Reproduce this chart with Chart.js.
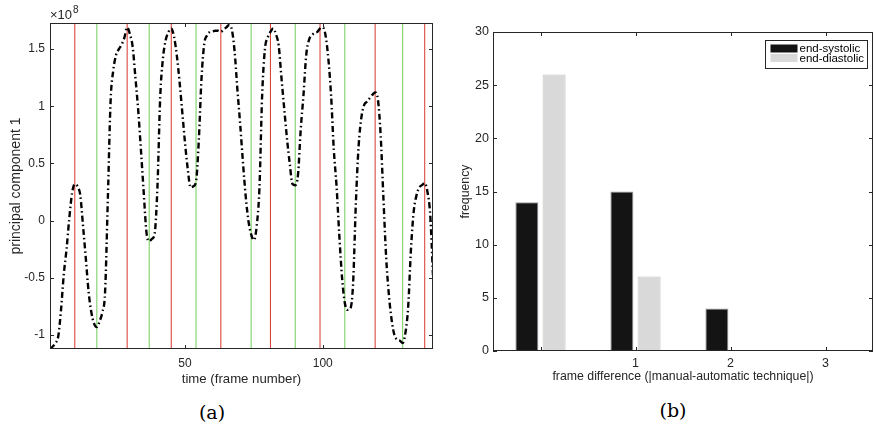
<!DOCTYPE html>
<html>
<head>
<meta charset="utf-8">
<script src="https://cdn.jsdelivr.net/npm/chart.js@4.4.1/dist/chart.umd.min.js"></script>
<style>
    body { margin: 0; background: #fff; }
    #wrap { position: relative; width: 876px; height: 430px; }
    canvas { position: absolute; top: 0; }
    #chartA { left: 0; }
    #chartB { left: 440px; }
    .cap { position: absolute; font-family: "DejaVu Serif", serif; font-size: 19px; color: #000; transform: translate(-50%, -50%); }
</style>
</head>
<body>
<div id="wrap">
    <canvas id="chartA" width="440" height="395"></canvas>
    <canvas id="chartB" width="436" height="395"></canvas>
    <div class="cap" style="left:212px; top:412px">(a)</div>
    <div class="cap" style="left:673px; top:410px">(b)</div>
</div>
<script>
    // (a) principal component 1 (units of 1e8), one value per frame 1..140
    const pc1 = [
        -1.12, -1.10, -1.07, -1.01, -0.78, -0.47, -0.25, 0.02, 0.24, 0.32,
        0.30, 0.22, -0.05, -0.33, -0.62, -0.80, -0.90, -0.93, -0.88, -0.80,
        -0.62, 0.20, 1.05, 1.32, 1.45, 1.50, 1.54, 1.60, 1.69, 1.63,
        1.52, 1.25, 0.97, 0.62, 0.25, -0.10, -0.18, -0.16, -0.11, 0.30,
        1.08, 1.42, 1.58, 1.65, 1.68, 1.61, 1.45, 1.22, 0.95, 0.68,
        0.45, 0.29, 0.30, 0.34, 0.70, 1.25, 1.55, 1.62, 1.65, 1.655,
        1.66, 1.66, 1.65, 1.67, 1.69, 1.71, 1.67, 1.48, 1.15, 0.85,
        0.52, 0.22, 0.00, -0.12, -0.17, -0.05, 0.28, 1.10, 1.50, 1.60,
        1.65, 1.68, 1.63, 1.53, 1.25, 0.98, 0.72, 0.50, 0.32, 0.31,
        0.40, 0.80, 1.10, 1.45, 1.58, 1.62, 1.64, 1.65, 1.68, 1.69,
        1.62, 1.42, 1.10, 0.62, 0.30, -0.13, -0.50, -0.72, -0.78, -0.77,
        -0.55, 0.15, 0.65, 0.90, 1.01, 1.04, 1.07, 1.10, 1.12, 1.06,
        0.75, 0.20, -0.32, -0.65, -0.87, -1.00, -1.04, -1.05, -1.07, -0.98,
        -0.75, -0.25, 0.08, 0.22, 0.29, 0.31, 0.33, 0.25, 0.05, -0.48
    ];
    const peakFrames = [10, 29, 45, 63, 81, 99, 119, 137];     // red markers
    const troughFrames = [18, 37, 54, 74, 90, 108, 129];       // green markers
    const aXTicks = [50, 100];
    const aYTicks = [-1, -0.5, 0, 0.5, 1, 1.5];
    const aYMin = -1.122, aYMax = 1.728;

    // (b) histogram of frame differences
    const diffTickLabels = ['', '1', '2', '3'];
    const endSystolic = [14, 15, 4, 0];
    const endDiastolic = [26, 7, 0, 0];
    const bYTicks = [0, 5, 10, 15, 20, 25, 30];

    const axisColor = '#262626';
    const sans = 'Liberation Sans, Arial, sans-serif';

    // MATLAB style box with inward ticks
    const boxPlugin = {
        id: 'box',
        afterDraw(chart) {
            const {ctx, chartArea: a, scales} = chart;
            ctx.save();
            ctx.strokeStyle = axisColor;
            ctx.lineWidth = 1;
            ctx.beginPath();
            scales.x.ticks.forEach((t, i) => {
                const px = Math.round(scales.x.getPixelForTick(i)) + 0.5;
                ctx.moveTo(px, a.bottom); ctx.lineTo(px, a.bottom - 4);
                ctx.moveTo(px, a.top); ctx.lineTo(px, a.top + 4);
            });
            scales.y.ticks.forEach((t, i) => {
                const py = Math.round(scales.y.getPixelForTick(i)) + 0.5;
                ctx.moveTo(a.left, py); ctx.lineTo(a.left + 4, py);
                ctx.moveTo(a.right, py); ctx.lineTo(a.right - 4, py);
            });
            ctx.stroke();
            ctx.strokeRect(Math.round(a.left) + 0.5, Math.round(a.top) + 0.5,
                Math.round(a.width) - 1, Math.round(a.height) - 1);
            ctx.restore();
        }
    };

    const expPlugin = {
        id: 'exp',
        afterDraw(chart) {
            const {ctx, chartArea: a} = chart;
            ctx.save();
            ctx.fillStyle = axisColor;
            ctx.textBaseline = 'alphabetic';
            ctx.font = '13px ' + sans;
            ctx.fillText('\u00d710', a.left, a.top - 4);
            const w = ctx.measureText('\u00d710').width;
            ctx.font = '10px ' + sans;
            ctx.fillText('8', a.left + w + 1, a.top - 10);
            ctx.restore();
        }
    };

    const legendPlugin = {
        id: 'boxLegend',
        afterDraw(chart) {
            const {ctx, chartArea: a} = chart;
            const w = 102, h = 28;
            const x0 = Math.round(a.right - 6 - w) + 0.5, y0 = Math.round(a.top + 8) + 0.5;
            ctx.save();
            ctx.fillStyle = '#fff';
            ctx.fillRect(x0, y0, w, h);
            ctx.strokeStyle = axisColor;
            ctx.lineWidth = 1;
            ctx.strokeRect(x0, y0, w, h);
            ctx.font = '11.5px ' + sans;
            ctx.textBaseline = 'middle';
            chart.data.datasets.forEach((ds, i) => {
                const yy = y0 + 4 + i * 9.5;
                ctx.fillStyle = ds.backgroundColor;
                ctx.fillRect(x0 + 5, yy, 27, 8);
                ctx.fillStyle = '#000';
                ctx.fillText(ds.label, x0 + 34, yy + 4.5);
            });
            ctx.restore();
        }
    };

    const markerSet = (f, color) => ({
        data: [{x: f, y: aYMin}, {x: f, y: aYMax}],
        borderColor: color,
        borderWidth: 1,
        pointRadius: 0,
        fill: false
    });

    const aDatasets = [{
        data: pc1.map((v, i) => ({x: i + 1, y: v})),
        borderColor: '#000',
        borderWidth: 2.4,
        borderDash: [6, 3, 1.5, 3],
        pointRadius: 0,
        cubicInterpolationMode: 'monotone',
        fill: false
    }];
    peakFrames.forEach(f => aDatasets.push(markerSet(f, '#d8362c')));
    troughFrames.forEach(f => aDatasets.push(markerSet(f, '#6fcd58')));

    const noGrid = {display: false, drawTicks: false};

    new Chart(document.getElementById('chartA'), {
        type: 'line',
        data: {datasets: aDatasets},
        options: {
            responsive: false,
            animation: false,
            layout: {padding: {top: 23, right: 7, left: 0, bottom: 0}},
            plugins: {legend: {display: false}, tooltip: {enabled: false}},
            scales: {
                x: {
                    type: 'linear', min: 1, max: 140,
                    afterBuildTicks: s => { s.ticks = aXTicks.map(v => ({value: v})); },
                    afterFit: s => { s.height = 46; },
                    grid: noGrid, border: {display: false},
                    ticks: {color: axisColor, font: {family: sans, size: 12}, padding: 7, maxRotation: 0},
                    title: {display: true, text: 'time (frame number)', color: axisColor,
                        font: {family: sans, size: 13.2}, padding: {top: 0, bottom: 8}}
                },
                y: {
                    min: aYMin, max: aYMax,
                    afterBuildTicks: s => { s.ticks = aYTicks.map(v => ({value: v})); },
                    afterFit: s => { s.width = 50; },
                    grid: noGrid, border: {display: false},
                    ticks: {color: axisColor, font: {family: sans, size: 12}, padding: 5,
                        callback: v => String(v)},
                    title: {display: true, text: 'principal component 1', color: axisColor,
                        font: {family: sans, size: 14}, padding: {top: 8, bottom: 0}}
                }
            }
        },
        plugins: [boxPlugin, expPlugin]
    });

    new Chart(document.getElementById('chartB'), {
        type: 'bar',
        data: {
            labels: diffTickLabels,
            datasets: [{
                label: 'end-systolic',
                data: endSystolic,
                backgroundColor: '#141414',
                borderColor: '#9a9a9a',
                borderWidth: 1,
                categoryPercentage: 0.573,
                barPercentage: 0.846
            }, {
                label: 'end-diastolic',
                data: endDiastolic,
                backgroundColor: '#d9d9d9',
                borderColor: '#c4c4bc',
                borderWidth: 1,
                categoryPercentage: 0.573,
                barPercentage: 0.846
            }]
        },
        options: {
            responsive: false,
            animation: false,
            layout: {padding: {top: 32, right: 3, left: 0, bottom: 0}},
            plugins: {legend: {display: false}, tooltip: {enabled: false}},
            scales: {
                x: {
                    afterFit: s => { s.height = 44; },
                    grid: noGrid, border: {display: false},
                    ticks: {color: axisColor, font: {family: sans, size: 12.5}, padding: 5, maxRotation: 0},
                    title: {display: true, text: 'frame difference (|manual-automatic technique|)', color: axisColor,
                        font: {family: sans, size: 12.3}, padding: {top: 0, bottom: 11}}
                },
                y: {
                    min: 0, max: 30,
                    afterBuildTicks: s => { s.ticks = bYTicks.map(v => ({value: v})); },
                    afterFit: s => { s.width = 53; },
                    grid: noGrid, border: {display: false},
                    ticks: {color: axisColor, font: {family: sans, size: 12.5}, padding: 4},
                    title: {display: true, text: 'frequency', color: axisColor,
                        font: {family: sans, size: 12.3}, padding: {top: 18, bottom: 0}}
                }
            }
        },
        plugins: [boxPlugin, legendPlugin]
    });
</script>
</body>
</html>
